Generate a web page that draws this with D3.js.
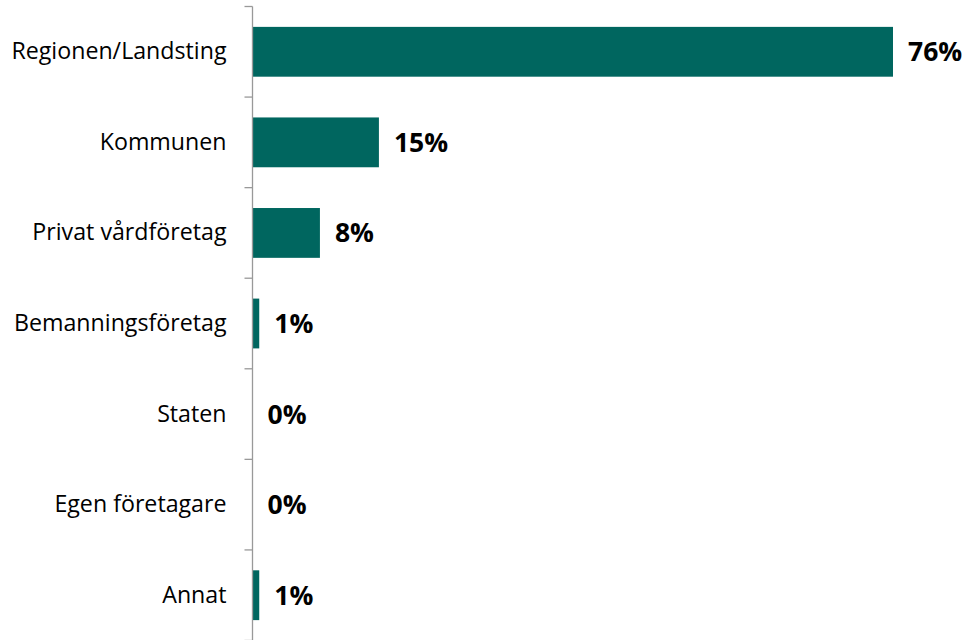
<!DOCTYPE html>
<html><head><meta charset="utf-8">
<script src="https://cdn.jsdelivr.net/npm/d3@7"></script>
<style>body{margin:0;background:#fff}</style>
</head><body>
<svg id="chart" width="967" height="640"></svg>
<script>
const categories = ["Regionen/Landsting","Kommunen","Privat vårdföretag","Bemanningsföretag","Staten","Egen företagare","Annat"];
const values = [76, 15, 8, 0.8, 0, 0, 0.8];
const valueLabels = ["76%","15%","8%","1%","0%","0%","1%"];

const svg = d3.select("#chart");
const axisX = 252.5;
const x = d3.scaleLinear().domain([0, 76]).range([axisX, 893]);
const y = d3.scaleBand().domain(categories).range([6.5, 640.5]).paddingInner(0.45).paddingOuter(0.225);

// bars
svg.selectAll("rect.bar").data(values).enter().append("rect")
  .attr("class","bar")
  .attr("x", x(0))
  .attr("y", (d,i)=>y(categories[i]))
  .attr("width", d=>x(d)-x(0))
  .attr("height", y.bandwidth())
  .attr("fill", "#00665f");

// axis
const axis = d3.axisLeft(y).tickSize(0).tickPadding(26);
const g = svg.append("g").attr("transform", `translate(${axisX},0)`).call(axis);
g.select(".domain").remove();
g.selectAll("text").attr("font-family","'Open Sans', Lato, sans-serif").attr("font-size", 23.2).attr("fill","#000");

// axis line and ticks between categories
svg.append("line").attr("x1",axisX).attr("x2",axisX).attr("y1",6.5).attr("y2",640).attr("stroke","#999").attr("stroke-width",1.3);
const step = y.step();
const tickYs = d3.range(categories.length+1).map(i => 6.5 + i*step);
svg.selectAll("line.tk").data(tickYs).enter().append("line")
  .attr("x1",axisX-8).attr("x2",axisX).attr("y1",d=>d).attr("y2",d=>d)
  .attr("stroke","#999").attr("stroke-width",1.3);

// value labels
svg.selectAll("text.val").data(values).enter().append("text")
  .attr("class","val")
  .attr("x", d=>x(d)+15)
  .attr("y", (d,i)=>y(categories[i])+y.bandwidth()/2)
  .attr("dy","0.36em")
  .attr("font-family","'Open Sans', Lato, sans-serif")
  .attr("font-weight","bold")
  .attr("font-size", 26.5)
  .attr("fill","#000")
  .text((d,i)=>valueLabels[i]);
</script>
</body></html>
